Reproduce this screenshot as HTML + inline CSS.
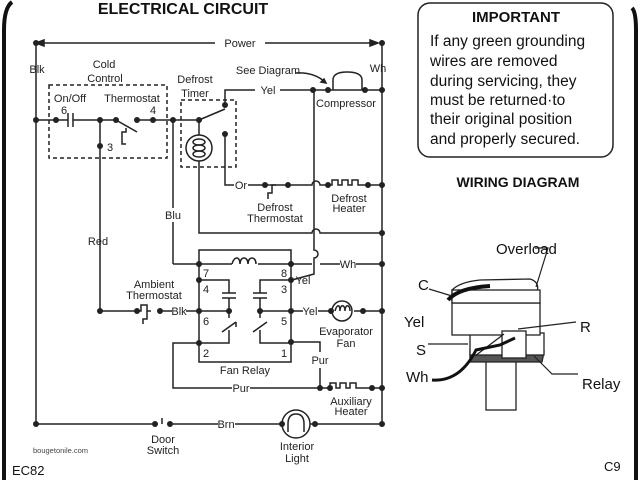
<!DOCTYPE html>
<html><head><meta charset="utf-8"><style>
html,body{margin:0;padding:0;background:#fff;}
svg{display:block;font-family:"Liberation Sans",Arial,sans-serif;}
</style></head><body>
<svg width="640" height="480" viewBox="0 0 640 480" xmlns="http://www.w3.org/2000/svg">
<rect width="640" height="480" fill="#fff"/>
<path d="M12 2 Q4 8 4 30 L4 480" stroke="#111" stroke-width="4" fill="none"/>
<path d="M632 8 Q636 12 636 30 L636 480" stroke="#111" stroke-width="4" fill="none"/>
<text x="183" y="14" font-size="16" font-weight="bold" text-anchor="middle" fill="#111">ELECTRICAL  CIRCUIT</text>

<g stroke="#222" stroke-width="1.5" fill="none">
<line x1="36" y1="43" x2="215" y2="43"/><line x1="265" y1="43" x2="378" y2="43"/>
<path d="M36 43 l8 -3 v6 z M378 43 l-8 -3 v6 z" fill="#222"/>
<line x1="36" y1="43" x2="36" y2="424"/>
<line x1="382" y1="43" x2="382" y2="424"/>
<line x1="36" y1="120" x2="68" y2="120"/><line x1="73" y1="120" x2="116" y2="120"/>
<line x1="68" y1="113" x2="68" y2="127"/><line x1="73" y1="113" x2="73" y2="127"/>
<line x1="137" y1="120" x2="199" y2="120"/>
<line x1="116" y1="120" x2="137" y2="132"/>
<path d="M126 128 v4 h-4 v12 h4"/>
<rect x="49" y="85" width="118" height="73" stroke-dasharray="4,3"/>
<line x1="100" y1="120" x2="100" y2="311"/>
<line x1="100" y1="311" x2="137" y2="311"/>
<line x1="173" y1="120" x2="173" y2="208"/><line x1="173" y1="222" x2="173" y2="264"/>
<rect x="181" y="100" width="55" height="67" stroke-dasharray="4,3"/>
<line x1="199" y1="120" x2="225" y2="109"/>
<path d="M225 105 V90 H255 M280 90 H328 M362 90 H382"/>
<line x1="199" y1="120" x2="199" y2="135"/>
<circle cx="199" cy="148" r="13"/>
<ellipse cx="199" cy="142" rx="6" ry="3"/><ellipse cx="199" cy="148" rx="6" ry="3"/><ellipse cx="199" cy="154" rx="6" ry="3"/>
<path d="M199 161 V233 H312 a4 4 0 0 1 8 0 H382"/>
<path d="M225 134 V185 H234 M248 185 H265"/>
<path d="M276 185 h-4 v8 h-4 v6"/><path d="M265 185 l11 0 M276 185 l12 0"/>
<path d="M288 185 H312 a4 4 0 0 1 8 0 H332 v-5 h6 v5 h4 v-5 h6 v5 h4 v-5 h6 v5 H382"/>
<path d="M333 90 V80 Q333 72 347 72 Q362 72 362 80 V90"/><line x1="330" y1="90" x2="364" y2="90"/>
<path d="M296 73 Q315 72 326 83"/><path d="M326 83 l-5 -1 l3 -3 z" fill="#222"/>
<path d="M314 90 V250 a4 4 0 0 1 0 8 V274 L292 280"/>
<path d="M173 264 H232 M258 264 H312 M320 264 H340 M356 264 H382"/>
<path d="M232 264 c2 -8 8 -8 8 0 c0 -8 8 -8 8 0 c0 -8 8 -8 8 0"/>
<rect x="199" y="250" width="92" height="112"/>
<path d="M199 280 H229 V293 M222 293 h14 M222 298 h14 M229 298 V311"/>
<path d="M291 280 H260 V293 M253 293 h14 M253 298 h14 M260 298 V311"/>
<path d="M160 311 H172 M186 311 H199 H229 V318 M229 330 V343 H199"/>
<path d="M222 332 l14 -10 M236 322 v5"/>
<path d="M260 311 H291 H303 M318 311 H330 M354 311 H382 M260 311 V318 M260 330 V343 H291"/>
<path d="M253 332 l14 -10"/>
<path d="M137 311 h4 v-6 h6 v6 M147 311 h4 M147 311 v8 h-4 v5"/>
<circle cx="342" cy="311" r="10"/>
<path d="M335 311 c2-7 5-7 5 0 c0-7 5-7 5 0 c0-7 5-7 5 0"/>
<path d="M199 343 H173 V388 H232 M250 388 H330 v-5 h6 v5 h4 v-5 h6 v5 h4 v-5 h6 v5 H382"/>
<path d="M291 342 H320 V352 M320 368 V388"/>
<path d="M36 424 H155 M162 424 v-6 M170 424 H218 M235 424 H282 M310 424 H382"/>
<circle cx="296" cy="424" r="14"/>
<path d="M288 432 V424 Q288 414 296 414 Q304 414 304 424 V432"/>
</g>
<g fill="#222">
<circle cx="36" cy="43" r="3"/><circle cx="382" cy="43" r="3"/>
<circle cx="36" cy="120" r="3"/><circle cx="56" cy="120" r="3"/><circle cx="100" cy="120" r="3"/><circle cx="116" cy="120" r="3"/><circle cx="137" cy="120" r="3"/><circle cx="153" cy="120" r="3"/><circle cx="173" cy="120" r="3"/><circle cx="199" cy="120" r="3"/>
<circle cx="100" cy="146" r="3"/><circle cx="225" cy="105" r="3"/><circle cx="225" cy="134" r="3"/>
<circle cx="313" cy="90" r="3"/><circle cx="328" cy="90" r="3"/><circle cx="365" cy="90" r="3"/><circle cx="382" cy="90" r="3"/>
<circle cx="265" cy="185" r="3"/><circle cx="288" cy="185" r="3"/><circle cx="328" cy="185" r="3"/><circle cx="368" cy="185" r="3"/><circle cx="382" cy="185" r="3"/>
<circle cx="382" cy="233" r="3"/>
<circle cx="199" cy="264" r="3"/><circle cx="291" cy="264" r="3"/><circle cx="382" cy="264" r="3"/>
<circle cx="199" cy="280" r="3"/><circle cx="291" cy="280" r="3"/>
<circle cx="100" cy="311" r="3"/><circle cx="137" cy="311" r="3"/><circle cx="160" cy="311" r="3"/><circle cx="199" cy="311" r="3"/><circle cx="229" cy="311" r="3"/><circle cx="260" cy="311" r="3"/><circle cx="291" cy="311" r="3"/><circle cx="331" cy="311" r="3"/><circle cx="363" cy="311" r="3"/><circle cx="382" cy="311" r="3"/>
<circle cx="199" cy="343" r="3"/><circle cx="291" cy="342" r="3"/>
<circle cx="320" cy="388" r="3"/><circle cx="330" cy="388" r="3"/><circle cx="372" cy="388" r="3"/><circle cx="382" cy="388" r="3"/>
<circle cx="36" cy="424" r="3"/><circle cx="155" cy="424" r="3"/><circle cx="170" cy="424" r="3"/><circle cx="282" cy="424" r="3"/><circle cx="315" cy="424" r="3"/><circle cx="382" cy="424" r="3"/>
</g>
<g font-size="11" fill="#222" text-anchor="middle">
<text x="240" y="47">Power</text>
<text x="37" y="73">Blk</text><text x="378" y="72">Wh</text>
<text x="104" y="68">Cold</text><text x="105" y="82">Control</text>
<text x="70" y="102">On/Off</text><text x="64" y="114">6</text>
<text x="132" y="102">Thermostat</text><text x="153" y="114">4</text>
<text x="110" y="151">3</text>
<text x="195" y="83">Defrost</text><text x="195" y="97">Timer</text>
<text x="268" y="74">See Diagram</text><text x="268" y="94">Yel</text>
<text x="346" y="107">Compressor</text>
<text x="241" y="189">Or</text>
<text x="275" y="211">Defrost</text><text x="275" y="222">Thermostat</text>
<text x="349" y="202">Defrost</text><text x="349" y="212">Heater</text>
<text x="173" y="219">Blu</text><text x="98" y="245">Red</text>
<text x="348" y="268">Wh</text>
<text x="206" y="277">7</text><text x="284" y="277">8</text><text x="303" y="284">Yel</text>
<text x="206" y="293">4</text><text x="284" y="293">3</text>
<text x="154" y="288">Ambient</text><text x="154" y="299">Thermostat</text>
<text x="179" y="315">Blk</text><text x="310" y="315">Yel</text>
<text x="206" y="325">6</text><text x="284" y="325">5</text>
<text x="206" y="357">2</text><text x="284" y="357">1</text>
<text x="346" y="335">Evaporator</text><text x="346" y="347">Fan</text>
<text x="245" y="374">Fan Relay</text><text x="320" y="364">Pur</text>
<text x="241" y="392">Pur</text>
<text x="351" y="405">Auxiliary</text><text x="351" y="415">Heater</text>
<text x="226" y="428">Brn</text>
<text x="163" y="443">Door</text><text x="163" y="454">Switch</text>
<text x="297" y="450">Interior</text><text x="297" y="462">Light</text>
</g>
<text x="33" y="453" font-size="7.5" fill="#444">bougetonile.com</text>
<text x="12" y="475" font-size="13" fill="#111">EC82</text>
<text x="604" y="471" font-size="13" fill="#111">C9</text>
<rect x="418" y="3" width="195" height="154" rx="12" fill="none" stroke="#222" stroke-width="1.5"/>
<text x="516" y="22" font-size="15" font-weight="bold" text-anchor="middle" fill="#111">IMPORTANT</text>
<g font-size="15.5" fill="#111">
<text x="430" y="46">If any green grounding</text>
<text x="430" y="66">wires are removed</text>
<text x="430" y="86">during servicing, they</text>
<text x="430" y="105">must be returned·to</text>
<text x="430" y="124">their original position</text>
<text x="430" y="144">and properly secured.</text>
</g>
<text x="518" y="187" font-size="14" font-weight="bold" text-anchor="middle" fill="#111">WIRING DIAGRAM</text>
<g stroke="#222" stroke-width="1.3" fill="#fff">
<rect x="486" y="360" width="30" height="50"/>
<path d="M470 362 L542 362 L544 352 L470 350 Z" fill="#555"/>
<rect x="470" y="333" width="74" height="22"/>
<rect x="452" y="303" width="88" height="32"/>
<path d="M452 303 L452 290 Q460 282 480 280 L530 279 Q540 282 537 292 L540 303" />
<rect x="452" y="290" width="88" height="13"/>
<rect x="502" y="331" width="24" height="27"/>
<line x1="475" y1="356" x2="504" y2="334"/>
</g>
<path d="M448 300 Q458 288 490 286" stroke="#111" stroke-width="4" fill="none"/>
<path d="M432 380 Q460 382 476 350 L500 345 L515 338" stroke="#111" stroke-width="3" fill="none"/>
<g stroke="#222" stroke-width="1.2" fill="none">
<path d="M535 248 H548 L536 287"/><path d="M429 289 L452 296"/><path d="M428 344 L468 344"/><path d="M518 329 L576 322"/><path d="M534 356 L552 374 H578"/>
</g>
<g font-size="15" fill="#111">
<text x="496" y="254">Overload</text><text x="418" y="290">C</text><text x="404" y="327">Yel</text>
<text x="580" y="332">R</text><text x="416" y="355">S</text><text x="406" y="382">Wh</text><text x="582" y="389">Relay</text>
</g>
</svg>
</body></html>
